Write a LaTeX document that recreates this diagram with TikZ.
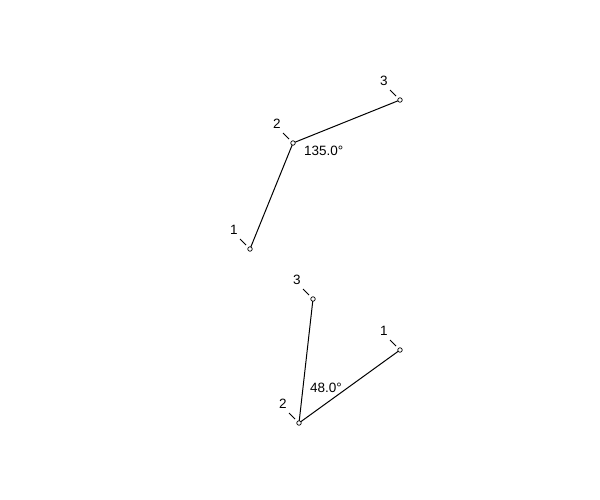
\documentclass[tikz,border=0pt]{standalone}
\usepackage{fontspec}
\setmainfont{Liberation Sans}
\usetikzlibrary{calc}
\begin{document}
\begin{tikzpicture}[x=1pt,y=-1pt,
  pt/.style={circle,draw,fill=white,line width=0.7pt,inner sep=0pt,minimum size=4.5pt},
  seg/.style={line width=1pt},
  tick/.style={line width=1pt},
  lbl/.style={inner sep=0pt,font=\fontsize{13.5}{15}\selectfont}]
\useasboundingbox (0,0) rectangle (600,500);
% top figure
\coordinate (a1) at (250,249);
\coordinate (a2) at (293,143);
\coordinate (a3) at (400,100);
\draw[seg] (a1) -- (a2) -- (a3);
\node[pt] (A1) at (a1) {};
\node[pt] (A2) at (a2) {};
\node[pt] (A3) at (a3) {};
\foreach \p/\t in {a1/1,a2/2,a3/3}{
  \coordinate (\p s) at ($(\p)+(-10,-10)$);
  \coordinate (\p e) at ($(\p)+(-4,-4)$);
  \draw[tick] (\p s) -- (\p e);
  \node[lbl] (\p l) at ($(\p)+(-16,-19)$) {\t};
}
\node[lbl,anchor=west] (ang1) at (304,151) {135.0°};
% bottom figure
\coordinate (b1) at (400,350);
\coordinate (b2) at (299,423);
\coordinate (b3) at (313,299);
\draw[seg] (b3) -- (b2) -- (b1);
\node[pt] (B1) at (b1) {};
\node[pt] (B2) at (b2) {};
\node[pt] (B3) at (b3) {};
\foreach \p/\t in {b1/1,b2/2,b3/3}{
  \coordinate (\p s) at ($(\p)+(-10,-10)$);
  \coordinate (\p e) at ($(\p)+(-4,-4)$);
  \draw[tick] (\p s) -- (\p e);
  \node[lbl] (\p l) at ($(\p)+(-16,-19)$) {\t};
}
\node[lbl,anchor=west] (ang2) at (310,388) {48.0°};
\end{tikzpicture}
\end{document}
